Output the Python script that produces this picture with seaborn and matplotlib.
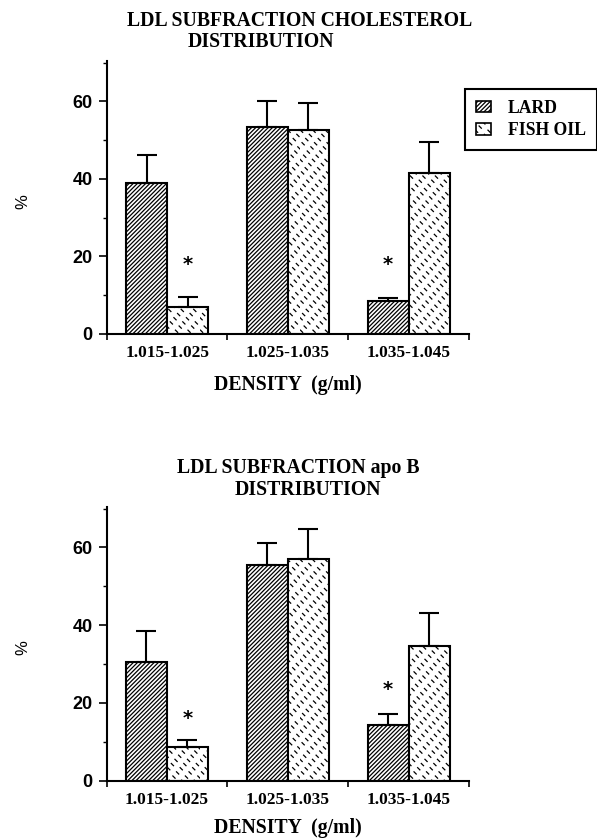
import matplotlib
matplotlib.use("Agg")
import numpy as np
import pandas as pd
import seaborn as sns
import matplotlib.pyplot as plt
import matplotlib.hatch as mhatch
from matplotlib.path import Path
from matplotlib.patches import Patch
from matplotlib.font_manager import FontProperties

# ---------------- data ----------------
groups = ["1.015-1.025", "1.025-1.035", "1.035-1.045"]
diets = ["LARD", "FISH OIL"]

chol_lard = [38.9, 53.4, 8.4]
chol_lard_err = [7.3, 6.8, 0.9]
chol_fish = [7.0, 52.6, 41.6]
chol_fish_err = [2.6, 7.0, 7.9]
chol_star_lard = [np.nan, np.nan, 17.8]
chol_star_fish = [17.8, np.nan, np.nan]

apob_lard = [30.4, 55.4, 14.4]
apob_lard_err = [8.0, 5.8, 2.6]
apob_fish = [8.6, 57.1, 34.6]
apob_fish_err = [1.8, 7.6, 8.5]
apob_star_lard = [np.nan, np.nan, 23.4]
apob_star_fish = [16.0, np.nan, np.nan]

y_major = [0, 20, 40, 60]
y_minor = [10, 30, 50, 70]


# ------------- custom stipple hatch for FISH OIL ('*') -------------
class DashHatch(mhatch.HatchPatternBase):
    """Short back-slash dashes laid out in rows running up to the right."""

    def __init__(self, hatch, density):
        self.on = '*' in hatch
        self.rows, self.per_row = 24, 8
        self.num_vertices = self.rows * self.per_row * 2 if self.on else 0

    def set_vertices_and_codes(self, vertices, codes):
        d = 0.011
        L = self.rows * self.per_row
        step = L // self.per_row
        pts = []
        for j in range(self.rows):
            cy = (j + 0.5) / self.rows
            for i in range(self.per_row):
                cx = ((11 + step * i + 7 * j) % L) / float(L)
                cx = min(max(cx, d), 1 - d)
                pts.append((cx - d, cy + d))
                pts.append((cx + d, cy - d))
        vertices[:] = np.array(pts)
        codes[0::2] = Path.MOVETO
        codes[1::2] = Path.LINETO


mhatch._hatch_types = [DashHatch if t is mhatch.Stars else t for t in mhatch._hatch_types]

sns.set_style("ticks")
plt.rcParams.update({
    "hatch.linewidth": 0.9,
    "text.color": "black",
    "axes.labelcolor": "black",
    "xtick.color": "black",
    "ytick.color": "black",
    "axes.edgecolor": "black",
})
plt.rcParams["font.family"] = ["Liberation Serif", "DejaVu Serif"]

W, H = 597, 839
fig = plt.figure(figsize=(W / 100, H / 100), dpi=100)
fig.patch.set_facecolor("white")


def rect(left, top, right, bottom):
    return [left / W, 1 - bottom / H, (right - left) / W, (bottom - top) / H]


serif_b = dict(family="Liberation Serif", weight="bold", color="black")
HATCHES = ["////////", "*"]


def draw(ax, lard, lard_err, fish, fish_err, star_lard, star_fish):
    df = pd.DataFrame({
        "density": groups * 2,
        "diet": ["LARD"] * 3 + ["FISH OIL"] * 3,
        "value": lard + fish,
    })
    sns.barplot(data=df, x="density", y="value", hue="diet", hue_order=diets,
                order=groups, palette=["white", "white"], saturation=1,
                edgecolor="black", linewidth=1.5, width=0.68, gap=0,
                errorbar=None, legend=False, ax=ax)
    for cont, hatch, errs, stars in zip(ax.containers, HATCHES,
                                        [lard_err, fish_err],
                                        [star_lard, star_fish]):
        for bar, e, s in zip(cont, errs, stars):
            bar.set_hatch(hatch)
            x = bar.get_x() + bar.get_width() / 2
            y = bar.get_height()
            ax.errorbar([x], [y], yerr=[[0], [e]], fmt="none", ecolor="black",
                        elinewidth=1.5, capsize=7, capthick=1.5, zorder=3)
            if not np.isnan(s):
                ax.text(x, s, "*", ha="center", va="center", fontsize=14,
                        fontweight="bold", family="DejaVu Sans", color="black")
    ax.set_xlim(-0.5, 2.5)
    ax.set_ylim(0, 70.4)
    ax.set_xlabel("")
    ax.set_ylabel("")
    ax.set_yticks(y_major)
    ax.set_yticks(y_minor, minor=True)
    ax.set_xticks([0, 1, 2])
    ax.set_xticklabels(groups)
    ax.set_xticks([-0.5, 0.5, 1.5, 2.5], minor=True)
    ax.tick_params(axis="x", which="major", length=0, pad=8)
    ax.tick_params(axis="x", which="minor", length=4, width=1.2, direction="out")
    ax.tick_params(axis="y", which="major", length=6, width=1.2, pad=4,
                   direction="out")
    ax.tick_params(axis="y", which="minor", length=3, width=1.0, direction="out")
    for lab in ax.get_xticklabels():
        lab.set_fontproperties(FontProperties(family="Liberation Serif",
                                              weight="bold", size=12.5))
        lab.set_color("black")
    for lab in ax.get_yticklabels():
        lab.set_fontproperties(FontProperties(family="Liberation Sans",
                                              weight="bold", size=13))
        lab.set_color("black")
    for sp in ["top", "right"]:
        ax.spines[sp].set_visible(False)
    for sp in ["left", "bottom"]:
        ax.spines[sp].set_linewidth(1.5)
        ax.spines[sp].set_color("black")
    ax.set_facecolor("white")


ax1 = fig.add_axes(rect(106.7, 61, 469, 334))
draw(ax1, chol_lard, chol_lard_err, chol_fish, chol_fish_err,
     chol_star_lard, chol_star_fish)
ax2 = fig.add_axes(rect(106.5, 507, 469, 780.5))
draw(ax2, apob_lard, apob_lard_err, apob_fish, apob_fish_err,
     apob_star_lard, apob_star_fish)

# titles
fig.text(126.7 / W, 1 - 26 / H, "LDL SUBFRACTION CHOLESTEROL", ha="left",
         va="baseline", fontsize=14.2, **serif_b)
fig.text(188 / W, 1 - 46.7 / H, "DISTRIBUTION", ha="left", va="baseline",
         fontsize=14.2, **serif_b)
fig.text(176.7 / W, 1 - 473.3 / H, "LDL SUBFRACTION apo B", ha="left",
         va="baseline", fontsize=14.2, **serif_b)
fig.text(235 / W, 1 - 495 / H, "DISTRIBUTION", ha="left", va="baseline",
         fontsize=14.2, **serif_b)

# x labels
fig.text(287.8 / W, 1 - 390 / H, "DENSITY  (g/ml)", ha="center", va="baseline",
         fontsize=14.2, **serif_b)
fig.text(287.8 / W, 1 - 833.5 / H, "DENSITY  (g/ml)", ha="center", va="baseline",
         fontsize=14.2, **serif_b)

# y labels
fig.text(23 / W, 1 - 202 / H, "%", ha="center", va="center", rotation=90,
         fontsize=12, family="Liberation Sans", color="black")
fig.text(23 / W, 1 - 648 / H, "%", ha="center", va="center", rotation=90,
         fontsize=12, family="Liberation Sans", color="black")

# legend
handles = [Patch(facecolor="white", edgecolor="black", hatch=HATCHES[0], lw=1.2),
           Patch(facecolor="white", edgecolor="black", hatch=HATCHES[1], lw=1.2)]
leg = fig.legend(handles, diets, loc="upper left",
                 bbox_to_anchor=(465 / W, 1 - 89.3 / H), frameon=True,
                 fancybox=False, edgecolor="black", borderaxespad=0,
                 prop=FontProperties(family="Liberation Serif", weight="bold",
                                     size=12.7),
                 handlelength=0.85, handleheight=0.6, handletextpad=1.0,
                 labelspacing=0.3, borderpad=0.6, framealpha=1)
leg.get_frame().set_linewidth(1.5)
for t in leg.get_texts():
    t.set_color("black")

fig.savefig("out.png", dpi=100, facecolor="white")
